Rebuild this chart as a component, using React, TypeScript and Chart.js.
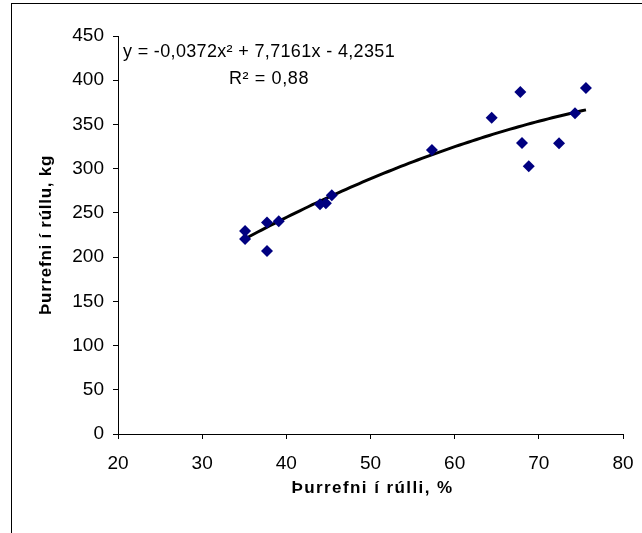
import React, { useEffect, useRef } from "react";
import { Chart, registerables } from "chart.js";

Chart.register(...registerables);

// Scatter data: % of dry matter in bale vs dry matter per bale (kg)
const xValues = [35.1, 35.1, 37.7, 37.7, 39.1, 44.0, 44.7, 45.4, 57.3, 64.4, 67.8, 68.0, 68.8, 72.4, 74.3, 75.6];
const yValues = [229.5, 220.5, 239, 207, 240.5, 259.7, 260.8, 270, 321, 357.6, 386.7, 329, 302.7, 328.7, 362.6, 391.2];

// Polynomial trend line as printed on the chart: y = a x^2 + b x + c
const trendCoefficients = [-0.0372, 7.7161, -4.2351];
const trendRange = [35.1, 75.6];

const xTicks = [20, 30, 40, 50, 60, 70, 80];
const yTicks = [0, 50, 100, 150, 200, 250, 300, 350, 400, 450];

const equationLines = ["y = -0,0372x\u00B2 + 7,7161x - 4,2351", "R\u00B2 = 0,88"];
const xTitle = "Þurrefni í rúlli, %";
const yTitle = "Þurrefni í rúllu, kg";

const FONT = "'Liberation Sans', Arial, sans-serif";

function drawFitted(ctx: CanvasRenderingContext2D, text: string, x: number, y: number, font: string, target: number, align: CanvasTextAlign) {
  ctx.font = font;
  (ctx as any).letterSpacing = "0px";
  const w = ctx.measureText(text).width;
  const n = Array.from(text).length;
  const ls = n > 1 ? (target - w) / n : 0;
  (ctx as any).letterSpacing = `${ls}px`;
  ctx.textAlign = "left";
  let x0 = x;
  if (align === "center") x0 = x - target / 2;
  else if (align === "right") x0 = x - target;
  ctx.fillText(text, x0, y);
  (ctx as any).letterSpacing = "0px";
}

export default function App() {
  const ref = useRef<HTMLCanvasElement | null>(null);

  useEffect(() => {
    if (!ref.current) return;
    const points = xValues.map((x, i) => ({ x, y: yValues[i] }));
    const trend: { x: number; y: number }[] = [];
    const [a, b, c] = trendCoefficients;
    for (let x = trendRange[0]; x <= trendRange[1] + 1e-9; x += 0.5) {
      trend.push({ x, y: a * x * x + b * x + c });
    }

    const framePlugin = {
      id: "frame",
      afterDraw(chart: any) {
        const ctx: CanvasRenderingContext2D = chart.ctx;
        const area = chart.chartArea;
        ctx.save();
        ctx.strokeStyle = "#000";
        ctx.lineWidth = 1;
        ctx.strokeRect(11.5, 3.5, 700, 700);
        ctx.fillStyle = "#000";
        ctx.textBaseline = "middle";
        // equation annotation
        drawFitted(ctx, equationLines[0], 123, 52, `18px ${FONT}`, 272, "left");
        drawFitted(ctx, equationLines[1], 229, 79, `18px ${FONT}`, 80, "left");
        // axis titles
        drawFitted(ctx, xTitle, 372.5, 488, `bold 17px ${FONT}`, 162, "center");
        ctx.save();
        ctx.translate(46, (area.top + area.bottom) / 2);
        ctx.rotate(-Math.PI / 2);
        drawFitted(ctx, yTitle, 0, 0, `bold 17px ${FONT}`, 160, "center");
        ctx.restore();
        ctx.restore();
      },
    };

    const chart = new Chart(ref.current, {
      type: "scatter",
      data: {
        datasets: [
          {
            type: "line",
            data: trend,
            borderColor: "#000",
            borderWidth: 3,
            pointRadius: 0,
            fill: false,
            tension: 0,
            order: 2,
          } as any,
          {
            data: points,
            pointStyle: "rectRot",
            pointRadius: 6,
            backgroundColor: "#000080",
            borderColor: "#000080",
            borderWidth: 0,
            order: 1,
          },
        ],
      },
      options: {
        animation: false,
        responsive: false,
        layout: { padding: { left: 0, right: 19, top: 36, bottom: 0 } },
        plugins: { legend: { display: false }, tooltip: { enabled: false } },
        scales: {
          x: {
            type: "linear",
            min: 20,
            max: 80,
            afterBuildTicks: (s: any) => { s.ticks = xTicks.map((v) => ({ value: v })); },
            afterFit: (s: any) => { s.height = 99; s.paddingLeft = 0; s.paddingRight = 0; },
            ticks: { color: "#000", font: { family: FONT, size: 19 }, padding: 13 },
            grid: { drawOnChartArea: false, tickLength: 5, color: "#000" },
            border: { color: "#000", width: 1 },
          },
          y: {
            type: "linear",
            min: 0,
            max: 450,
            afterBuildTicks: (s: any) => { s.ticks = yTicks.map((v) => ({ value: v })); },
            afterFit: (s: any) => { s.width = 118; s.paddingTop = 0; s.paddingBottom = 0; },
            ticks: { color: "#000", font: { family: FONT, size: 19 }, padding: 9 },
            grid: { drawOnChartArea: false, tickLength: 5, color: "#000" },
            border: { color: "#000", width: 1 },
          },
        },
      },
      plugins: [framePlugin],
    } as any);
    return () => chart.destroy();
  }, []);

  return (
    <div style={{ position: "absolute", left: 0, top: 0, width: 642, height: 533, background: "#fff" }}>
      <canvas ref={ref} width={642} height={533} style={{ display: "block" }} />
    </div>
  );
}
